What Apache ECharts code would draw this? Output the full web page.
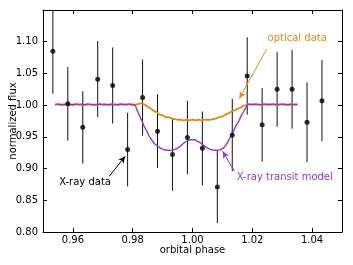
<!DOCTYPE html>
<html><head><meta charset="utf-8">
<script src="https://cdn.jsdelivr.net/npm/echarts@6/dist/echarts.min.js"></script>
<style>html,body{margin:0;padding:0;background:#fff}#c{width:353px;height:265px}</style>
</head><body><div id="c"></div>
<script>
// X-ray data
const xrayPhase=[0.9533,0.9583,0.9633,0.9683,0.9733,0.9783,0.9833,0.9883,0.9933,0.9983,1.0033,1.0083,1.0133,1.0183,1.0233,1.0283,1.0333,1.0383,1.0433];
const xrayFlux =[1.085,1.002,0.965,1.041,1.031,0.930,1.012,0.959,0.922,0.949,0.932,0.871,0.953,1.046,0.969,1.025,1.025,0.973,1.007];
const xrayErr  =[0.067,0.058,0.057,0.060,0.060,0.058,0.060,0.058,0.057,0.058,0.058,0.057,0.057,0.061,0.058,0.059,0.062,0.063,0.064];
// optical data
const optPhase=[0.954,0.955,0.956,0.957,0.958,0.959,0.960,0.961,0.962,0.963,0.964,0.965,0.966,0.967,0.968,0.969,0.970,0.971,0.972,0.973,0.974,0.975,0.976,0.977,0.978,0.979,0.980,0.981,0.982,0.983,0.984,0.985,0.986,0.987,0.988,0.989,0.990,0.991,0.992,0.993,0.994,0.995,0.996,0.997,0.998,0.999,1.000,1.001,1.002,1.003,1.004,1.005,1.006,1.007,1.008,1.009,1.010,1.011,1.012,1.013,1.014,1.015,1.016,1.017,1.018,1.019,1.020,1.021,1.022,1.023,1.024,1.025,1.026,1.027,1.028,1.029,1.030,1.031,1.032,1.033,1.034,1.035];
const optFlux=[1.001,1.002,1.000,1.001,1.002,1.001,1.000,1.002,1.001,1.001,1.000,1.002,1.001,1.000,1.001,1.002,1.001,1.001,1.000,1.002,1.001,1.000,1.002,1.001,1.001,1.002,1.000,1.001,1.002,1.003,1.001,0.997,0.995,0.991,0.989,0.985,0.984,0.981,0.981,0.979,0.978,0.977,0.977,0.976,0.977,0.976,0.977,0.976,0.977,0.976,0.977,0.977,0.977,0.978,0.979,0.981,0.982,0.985,0.987,0.990,0.992,0.994,0.996,0.999,1.000,1.002,1.001,1.002,1.001,1.000,1.002,1.001,1.001,1.002,1.000,1.001,1.002,1.001,1.000,1.002,1.001,1.001];
// X-ray transit model
const modelPhase=[0.9540,0.9805,0.9814,0.9822,0.9831,0.9839,0.9848,0.9856,0.9864,0.9872,0.9881,0.9889,0.9898,0.9906,0.9917,0.9928,0.9939,0.9950,0.9961,0.9973,0.9984,0.9995,1.0006,1.0017,1.0028,1.0039,1.0050,1.0061,1.0072,1.0083,1.0094,1.0105,1.0113,1.0121,1.0130,1.0138,1.0146,1.0155,1.0163,1.0171,1.0179,1.0185,1.0352];
const modelFlux=[1.001,1.001,0.993,0.984,0.975,0.966,0.958,0.9506,0.945,0.940,0.936,0.9334,0.931,0.9297,0.9289,0.9287,0.930,0.9323,0.936,0.941,0.944,0.9455,0.9455,0.943,0.940,0.936,0.9325,0.930,0.9288,0.9288,0.930,0.933,0.938,0.945,0.952,0.960,0.968,0.975,0.983,0.990,0.996,1.001,1.001];
// ticks
const xTicks=[0.96,0.98,1.00,1.02,1.04];
const yTicks=[0.80,0.85,0.90,0.95,1.00,1.05,1.10];

const ORANGE='#e08c14', PURPLE='#9c36c6', FONT='DejaVu Sans', FS=10;
// annotations: [text, color, textPhase, textFlux, arrowFrom(phase,flux), arrowTo(phase,flux)]
const notes=[
  ['optical data',ORANGE,1.0251,1.1058,[1.0248,1.0886],[1.0157,1.0105]],
  ['X-ray data','#000',0.9554,0.8777,[0.9722,0.8881],[0.9775,0.9194]],
  ['X-ray transit model',PURPLE,1.0148,0.8866,[1.0140,0.8959],[1.0101,0.9272]]
];

const chart=echarts.init(document.getElementById('c'),null,{renderer:'canvas'});
const axLine={show:true,onZero:false,lineStyle:{color:'#000',width:1}};
const lbl={color:'#000',fontSize:FS,fontFamily:FONT};
function xAx(pos,show){return {type:'value',min:0.95,max:1.05,position:pos,axisLine:axLine,
  axisTick:{show:true,inside:true,length:4,customValues:xTicks,lineStyle:{color:'#000'}},
  axisLabel:show?Object.assign({customValues:xTicks,margin:3,formatter:v=>v.toFixed(2)},lbl):{show:false},
  splitLine:{show:false},
  name:show?'orbital phase':'',nameLocation:'middle',nameGap:13,nameMoveOverlap:false,nameTextStyle:lbl};}
function yAx(pos,show){return {type:'value',min:0.80,max:1.15,position:pos,axisLine:axLine,
  axisTick:{show:true,inside:true,length:4,customValues:yTicks,lineStyle:{color:'#000'}},
  axisLabel:show?Object.assign({customValues:yTicks,margin:5,formatter:v=>v.toFixed(2)},lbl):{show:false},
  splitLine:{show:false},
  name:show?'normalized flux':'',nameLocation:'middle',nameGap:25,nameMoveOverlap:false,nameRotate:90,nameTextStyle:lbl};}

chart.setOption({
  animation:false,
  grid:{left:43,right:11,top:10,bottom:33,containLabel:false,outerBoundsMode:'none'},
  xAxis:[xAx('bottom',true),xAx('top',false)],
  yAxis:[yAx('left',true),yAx('right',false)],
  series:[
    {type:'custom',clip:true,xAxisIndex:0,yAxisIndex:0,z:2,
     data:xrayPhase.map((p,i)=>[p,xrayFlux[i],xrayErr[i]]),
     encode:{x:0,y:1},
     renderItem:(params,api)=>{const x=api.value(0),y=api.value(1),e=api.value(2);
       const a=api.coord([x,y+e]),b=api.coord([x,y-e]);
       return {type:'line',shape:{x1:a[0],y1:a[1],x2:b[0],y2:b[1]},style:{stroke:'#111',lineWidth:1}};}},
    {type:'line',z:3,data:optPhase.map((p,i)=>[p,optFlux[i]]),showSymbol:false,symbol:'none',
     lineStyle:{color:ORANGE,width:1.8}},
    {type:'line',z:4,data:modelPhase.map((p,i)=>[p,modelFlux[i]]),showSymbol:false,symbol:'none',smooth:0.25,
     lineStyle:{color:PURPLE,width:1.4}},
    {type:'scatter',z:5,data:xrayPhase.map((p,i)=>[p,xrayFlux[i]]),symbolSize:5,itemStyle:{color:'#000'},
     markLine:{silent:true,symbol:['none','arrow'],symbolSize:[5,7],label:{show:false},
       data:notes.map(n=>[{coord:n[4],lineStyle:{color:n[1],width:1,type:'solid'}},{coord:n[5]}])}}
  ]
});
chart.setOption({graphic:notes.map(n=>{const p=chart.convertToPixel({gridIndex:0},[n[2],n[3]]);
  return {type:'text',x:p[0],y:p[1],style:{text:n[0],fill:n[1],font:FS+'px "'+FONT+'"',textVerticalAlign:'middle',textAlign:'left'}};})});
</script></body></html>
